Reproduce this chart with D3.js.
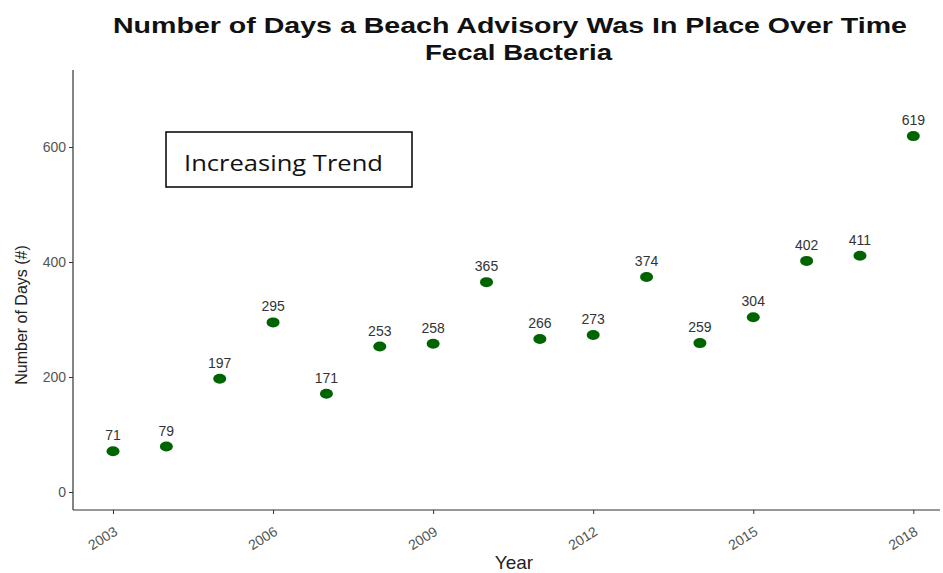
<!DOCTYPE html>
<html><head><meta charset="utf-8">
<script src="https://cdn.jsdelivr.net/npm/d3@7"></script>
<style>body{margin:0;background:#fff}</style>
</head><body>
<svg id="c" width="943" height="573"></svg>
<script>
const years = [2003,2004,2005,2006,2007,2008,2009,2010,2011,2012,2013,2014,2015,2016,2017,2018];
const days = [71,79,197,295,171,253,258,365,266,273,374,259,304,402,411,619];
const xTicks = [2003,2006,2009,2012,2015,2018];
const yTicks = [0,200,400,600];
const titleLines = ["Number of Days a Beach Advisory Was In Place Over Time","Fecal Bacteria"];
const annotation = "Increasing Trend";

(function(){
const svg = d3.select("#c");
const pL = 73, pR = 940, pT = 70, pB = 510;
const x = d3.scaleLinear().domain([2002.25, 2018.5]).range([pL, pR]);
const y = d3.scaleLinear().domain([-31.3, 734]).range([pB, pT]);
const ff = "Liberation Sans, Arial, sans-serif";

// axes
const yAxis = svg.append("g").attr("transform",`translate(${pL},0)`)
  .call(d3.axisLeft(y).tickValues(yTicks).tickSize(4).tickPadding(3));
yAxis.select(".domain").attr("d",`M0,${pT}V${pB}`).attr("stroke","#333").attr("stroke-width",1.2);
yAxis.selectAll(".tick line").attr("stroke","#333");
yAxis.selectAll("text").attr("fill","#555").style("font-family",ff).style("font-size","14px");

const xAxis = svg.append("g").attr("transform",`translate(0,${pB})`)
  .call(d3.axisBottom(x).tickValues(xTicks).tickFormat(d3.format("d")).tickSize(4));
xAxis.select(".domain").attr("d",`M${pL},0H${pR}`).attr("stroke","#333").attr("stroke-width",1.2);
xAxis.selectAll(".tick line").attr("stroke","#333");
xAxis.selectAll("text").attr("fill","#555").style("font-family",ff).style("font-size","14px")
  .attr("text-anchor","end").attr("dy",null).attr("y",0)
  .attr("transform","translate(5,24) rotate(-32)");

// points
svg.append("g").selectAll("ellipse").data(years).join("ellipse")
  .attr("cx",(d)=>x(d)).attr("cy",(d,i)=>y(days[i]))
  .attr("rx",6.5).attr("ry",5).attr("fill","#006400");

// labels
svg.append("g").selectAll("text").data(years).join("text")
  .attr("x",(d)=>x(d)).attr("y",(d,i)=>y(days[i])-11)
  .attr("text-anchor","middle").attr("fill","#333")
  .style("font-family",ff).style("font-size","14px")
  .text((d,i)=>days[i]);

// titles
svg.append("text").attr("x",113).attr("y",33)
  .attr("textLength",794).attr("lengthAdjust","spacingAndGlyphs")
  .style("font-family",ff).style("font-weight","bold").style("font-size","22px")
  .attr("fill","#111").text(titleLines[0]);
svg.append("text").attr("x",425).attr("y",60)
  .attr("textLength",187).attr("lengthAdjust","spacingAndGlyphs")
  .style("font-family",ff).style("font-weight","bold").style("font-size","22px")
  .attr("fill","#111").text(titleLines[1]);

// axis titles
svg.append("text").attr("transform","translate(27,315) rotate(-90)").attr("text-anchor","middle")
  .style("font-family",ff).style("font-size","16px").attr("fill","#222")
  .text("Number of Days (#)");
svg.append("text").attr("x",514).attr("y",569).attr("text-anchor","middle")
  .style("font-family",ff).style("font-size","19px").attr("fill","#222")
  .text("Year");

// annotation box
svg.append("rect").attr("x",166).attr("y",132).attr("width",246).attr("height",55)
  .attr("fill","#fff").attr("stroke","#000").attr("stroke-width",1.5);
svg.append("text").attr("x",184).attr("y",171)
  .attr("textLength",199).attr("lengthAdjust","spacingAndGlyphs")
  .style("font-family","Open Sans, sans-serif").style("font-size","22px").attr("fill","#111")
  .text(annotation);
})();
</script>
</body></html>
